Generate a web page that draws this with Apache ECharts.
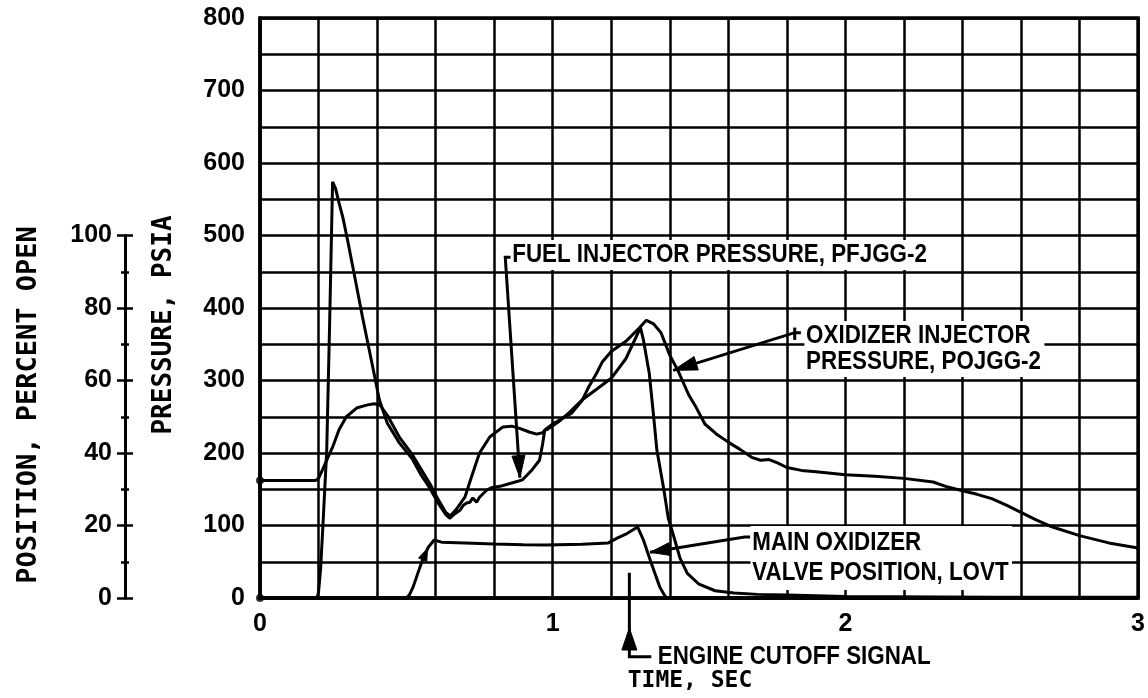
<!DOCTYPE html>
<html>
<head>
<meta charset="utf-8">
<script src="https://cdn.jsdelivr.net/npm/echarts@6/dist/echarts.min.js"></script>
<style>
html,body{margin:0;padding:0;background:#fff;}
#c{width:1148px;height:698px;}
</style>
</head>
<body>
<div id="c"></div>
<script>
// ---------------- DATA ----------------
const timeTickLabels = [0, 1, 2, 3];                       // s
const pressureTickLabels = [0, 100, 200, 300, 400, 500, 600, 700, 800]; // psia
const positionTickLabels = [0, 20, 40, 60, 80, 100];       // percent open

// [time s, pressure psia]
const fuelInjectorPressure = [
  [0,0],[0.195,0],[0.2,8],[0.207,40],[0.215,100],[0.228,204],[0.238,380],[0.248,574],
  [0.258,565],[0.27,545],[0.283,525],[0.3,492],[0.317,457],[0.35,388],[0.385,319],
  [0.408,273],[0.435,241],[0.476,214],[0.52,192],[0.55,170],[0.578,153],[0.61,130],
  [0.635,115],[0.648,110],[0.665,116],[0.683,121],[0.695,128],[0.706,131],[0.717,132],
  [0.727,138],[0.74,132],[0.75,139],[0.775,149],[0.79,152],[0.82,154],[0.863,159],
  [0.897,163],[0.93,177],[0.955,190],[0.965,211],[0.973,232],[0.98,232],[1.02,243],
  [1.06,257],[1.1,273],[1.15,288],[1.2,303],[1.25,330],[1.285,360],[1.3,373],
  [1.31,356],[1.33,310],[1.345,250],[1.356,204],[1.37,172],[1.38,149],[1.395,110],
  [1.41,90],[1.435,55],[1.46,34],[1.5,19],[1.555,10],[1.62,7],[1.7,5],[1.8,4],
  [2.0,2],[2.5,1],[3.0,1]
];
const oxidizerInjectorPressure = [
  [0,162],[0.19,162],[0.2,165],[0.215,178],[0.23,192],[0.248,208],[0.27,232],[0.295,250],
  [0.33,262],[0.364,266],[0.39,268],[0.41,266],[0.435,252],[0.476,222],[0.52,198],
  [0.55,178],[0.58,158],[0.61,135],[0.635,118],[0.65,113],[0.67,122],[0.7,139],
  [0.725,170],[0.75,200],[0.785,222],[0.83,236],[0.86,237],[0.887,234],[0.92,229],
  [0.945,226],[0.965,228],[0.98,234],[1.0,240],[1.065,255],[1.1,272],[1.123,291],
  [1.15,310],[1.17,326],[1.2,340],[1.25,354],[1.295,372],[1.32,383],[1.345,378],
  [1.37,366],[1.4,335],[1.43,312],[1.465,280],[1.49,263],[1.52,240],[1.56,226],
  [1.6,215],[1.64,205],[1.68,194],[1.71,190],[1.74,191],[1.77,186],[1.8,180],
  [1.85,176],[1.9,174],[2.0,170],[2.1,168],[2.2,165],[2.3,160],[2.35,153],[2.4,148],
  [2.45,143],[2.5,137],[2.55,128],[2.6,118],[2.65,108],[2.7,99],[2.8,86],[2.9,76],[3.0,69]
];
// [time s, position percent open]
const mainOxidizerValvePosition = [
  [0,0],[0.5,0],[0.51,0.8],[0.523,3],[0.54,7],[0.555,10.5],[0.575,14],[0.595,16],
  [0.62,15.4],[0.7,15.2],[0.8,14.9],[0.9,14.7],[0.976,14.6],[1.1,14.8],[1.19,15.2],
  [1.22,16.5],[1.25,17.6],[1.29,19.6],[1.31,16],[1.337,9.6],[1.366,3],[1.383,0.6],
  [1.39,0],[3,0]
];
const engineCutoffTime = 1.262;

// annotation anchors in data space [time, psia]
const annotations = [
  { text: 'FUEL INJECTOR PRESSURE, PFJGG-2', at: [0.856, 473], lineHeight: 26, box: true,
    path: [[0.866, 470], [0.838, 470], [0.888, 166]], arrow: { len: 22, half: 6.5 } },
  { text: 'OXIDIZER INJECTOR\nPRESSURE, POJGG-2', at: [1.86, 343.5], lineHeight: 26, box: true,
    bracket: [[1.827, 373], [1.827, 356]],
    path: [[1.848, 366], [1.827, 366], [1.412, 314]], arrow: { len: 24, half: 7 } },
  { text: 'MAIN OXIDIZER\nVALVE POSITION, LOVT', at: [1.676, 55.2], lineHeight: 30, box: true,
    path: [[1.675, 84], [1.656, 84], [1.333, 63]], arrow: { len: 20, half: 6.5 } },
  { text: 'ENGINE CUTOFF SIGNAL', at: [1.359, -81], lineHeight: 26, box: false,
    path: [[engineCutoffTime, 35], [engineCutoffTime, -81], [1.337, -81]],
    arrowAt: { from: [engineCutoffTime, -72], tip: [engineCutoffTime, -41.4] }, arrow: { len: 22, half: 7.5 } }
];
const movDirectionArrow = { from: [0.545, 8.5], tip: [0.572, 13.6] }; // small arrow drawn on the valve curve (percent units)

// ---------------- CHART ----------------
const BLACK = '#000';
const tickFont = { fontFamily: '"Liberation Sans", Arial, sans-serif', fontWeight: 'bold', fontSize: 25, color: BLACK };
const gridLine = { color: BLACK, width: 2.5 };

function arrowHead(from, tip, len, half) {
  const dx = tip[0] - from[0], dy = tip[1] - from[1];
  const L = Math.hypot(dx, dy) || 1;
  const ux = dx / L, uy = dy / L;
  const bx = tip[0] - ux * len, by = tip[1] - uy * len;
  return { type: 'polygon', shape: { points: [tip, [bx - uy * half, by + ux * half], [bx + uy * half, by - ux * half]] },
           style: { fill: BLACK, stroke: BLACK, lineWidth: 1 } };
}

function renderAnnotations(params, api) {
  const P = d => api.coord(d);
  const children = [];
  annotations.forEach(a => {
    const pts = a.path.map(P);
    children.push({ type: 'polyline', shape: { points: pts }, style: { stroke: BLACK, lineWidth: 3, fill: null } });
    if (a.bracket) {
      children.push({ type: 'polyline', shape: { points: a.bracket.map(P) }, style: { stroke: BLACK, lineWidth: 3, fill: null } });
    }
    if (a.arrowAt) {
      children.push(arrowHead(P(a.arrowAt.from), P(a.arrowAt.tip), a.arrow.len, a.arrow.half));
    } else {
      children.push(arrowHead(pts[pts.length - 2], pts[pts.length - 1], a.arrow.len, a.arrow.half));
    }
    const tp = P(a.at);
    const style = { text: a.text, fill: BLACK, font: 'bold 26px "Liberation Sans", Arial, sans-serif',
                    align: 'left', verticalAlign: 'middle', lineHeight: a.lineHeight };
    if (a.box) { style.backgroundColor = '#fff'; style.padding = [2, 4, 2, 2]; }
    children.push({ type: 'text', x: tp[0], y: tp[1], scaleX: 0.86, originX: 0, originY: 0, style });
  });
  return { type: 'group', children };
}

function renderMovArrow(params, api) {
  const f = api.coord(movDirectionArrow.from), t = api.coord(movDirectionArrow.tip);
  return arrowHead(f, t, 12, 4.5);
}

const chart = echarts.init(document.getElementById('c'), null, { renderer: 'canvas' });
chart.setOption({
  animation: false,
  backgroundColor: '#fff',
  grid: [
    { left: 260, right: 7, top: 18, bottom: 100, show: true, borderColor: BLACK, borderWidth: 3.5, backgroundColor: 'transparent' },
    { left: 125, width: 1, top: 235.5, bottom: 100, show: false }
  ],
  xAxis: [
    { gridIndex: 0, type: 'value', min: 0, max: 3, interval: 0.2,
      axisLine: { show: true, onZero: false, lineStyle: { color: BLACK, width: 3.5 } },
      axisTick: { show: false },
      splitLine: { show: true, lineStyle: gridLine },
      axisLabel: Object.assign({}, tickFont, { margin: 14,
        formatter: v => { const r = Math.round(v * 1000) / 1000; return timeTickLabels.includes(r) ? String(r) : ''; } }) },
    { gridIndex: 1, type: 'value', min: 0, max: 1, show: false }
  ],
  yAxis: [
    { gridIndex: 0, type: 'value', min: 0, max: 800, interval: 50,
      axisLine: { show: true, onZero: false, lineStyle: { color: BLACK, width: 3.5 } },
      axisTick: { show: false },
      splitLine: { show: true, lineStyle: gridLine },
      axisLabel: Object.assign({}, tickFont, { margin: 15,
        formatter: v => pressureTickLabels.includes(v) ? String(v) : '' }) },
    { gridIndex: 0, type: 'value', min: 0, max: 160, show: false },
    { gridIndex: 1, type: 'value', min: 0, max: 100, interval: 20, position: 'left',
      axisLine: { show: true, onZero: false, lineStyle: { color: BLACK, width: 3 } },
      axisTick: { show: true, length: 8, lineStyle: { color: BLACK, width: 2.5 } },
      minorTick: { show: true, splitNumber: 2, length: 4, lineStyle: { color: BLACK, width: 2.5 } },
      splitLine: { show: false },
      axisLabel: Object.assign({}, tickFont, { margin: 13,
        formatter: v => positionTickLabels.includes(v) ? String(v) : '' }) },
    { gridIndex: 1, type: 'value', min: 0, max: 100, interval: 20, position: 'right',
      axisLine: { show: false },
      axisTick: { show: true, length: 8, lineStyle: { color: BLACK, width: 2.5 } },
      minorTick: { show: true, splitNumber: 2, length: 4, lineStyle: { color: BLACK, width: 2.5 } },
      splitLine: { show: false }, axisLabel: { show: false } }
  ],
  graphic: [
    { type: 'text', x: 29, y: 405, rotation: Math.PI / 2,
      style: { text: 'POSITION, PERCENT OPEN', font: 'bold 27px "DejaVu Sans Mono", monospace', fill: BLACK, align: 'center', verticalAlign: 'middle' } },
    { type: 'text', x: 164, y: 325, rotation: Math.PI / 2,
      style: { text: 'PRESSURE, PSIA', font: 'bold 26px "DejaVu Sans Mono", monospace', fill: BLACK, align: 'center', verticalAlign: 'middle' } },
    { type: 'text', x: 690, y: 681,
      style: { text: 'TIME, SEC', font: 'bold 23px "DejaVu Sans Mono", monospace', fill: BLACK, align: 'center', verticalAlign: 'middle' } }
  ],
  series: [
    { name: 'Fuel injector pressure, PFJGG-2', type: 'line', xAxisIndex: 0, yAxisIndex: 0, data: fuelInjectorPressure,
      showSymbol: false, lineStyle: { color: BLACK, width: 3 }, itemStyle: { color: BLACK }, z: 5 },
    { name: 'Oxidizer injector pressure, POJGG-2', type: 'line', xAxisIndex: 0, yAxisIndex: 0, data: oxidizerInjectorPressure,
      showSymbol: false, lineStyle: { color: BLACK, width: 3 }, itemStyle: { color: BLACK }, z: 5 },
    { name: 'Main oxidizer valve position, LOVT', type: 'line', xAxisIndex: 0, yAxisIndex: 1, data: mainOxidizerValvePosition,
      showSymbol: false, lineStyle: { color: BLACK, width: 3 }, itemStyle: { color: BLACK }, z: 5 },
    { name: 'start points', type: 'scatter', xAxisIndex: 0, yAxisIndex: 0,
      data: [fuelInjectorPressure[0], oxidizerInjectorPressure[0]], symbolSize: 8, itemStyle: { color: BLACK }, z: 6 },
    { name: 'annotations', type: 'custom', xAxisIndex: 0, yAxisIndex: 0, data: [[0, 0]],
      renderItem: renderAnnotations, clip: false, z: 4, silent: true },
    { name: 'valve arrow', type: 'custom', xAxisIndex: 0, yAxisIndex: 1, data: [[0, 0]],
      renderItem: renderMovArrow, clip: false, z: 6, silent: true }
  ]
});
</script>
</body>
</html>
